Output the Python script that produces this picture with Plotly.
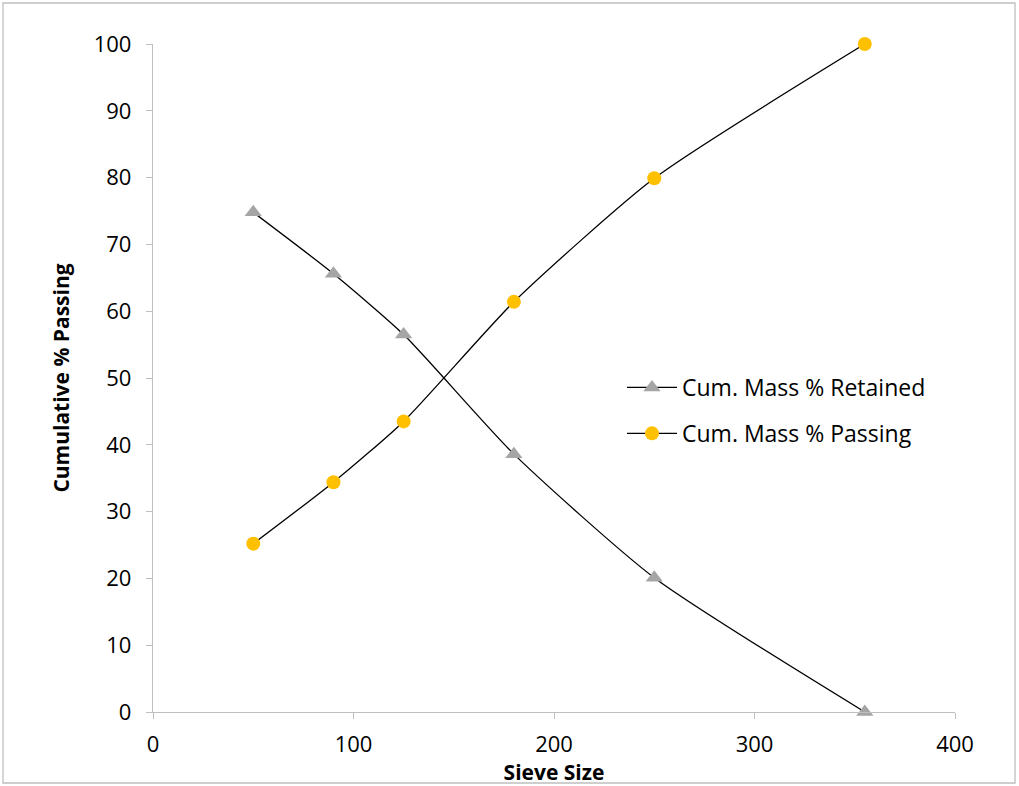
import plotly.graph_objects as go

sieve = [50, 90, 125, 180, 250, 355]
retained = [74.8, 65.6, 56.5, 38.6, 20.1, 0]
passing = [25.2, 34.4, 43.5, 61.4, 79.9, 100]

L, R, T, B = 153, 64, 44, 74
W, H = 1019, 786
pw, ph = W - L - R, H - T - B

fig = go.Figure()
fig.add_trace(go.Scatter(x=sieve, y=retained, mode="lines+markers", name="Cum. Mass % Retained",
                         legendgroup="a", cliponaxis=False,
                         line=dict(color="black", width=1.3, shape="spline", smoothing=0.6),
                         marker=dict(symbol="triangle-up", size=15, color="#A5A5A5")))
fig.add_trace(go.Scatter(x=sieve, y=passing, mode="lines+markers", name="Cum. Mass % Passing",
                         legendgroup="b", cliponaxis=False,
                         line=dict(color="black", width=1.3, shape="spline", smoothing=0.6),
                         marker=dict(symbol="circle", size=14, color="#FFC000")))

font = "Open Sans, Liberation Sans, sans-serif"
fig.update_layout(
    width=W, height=H, autosize=False,
    margin=dict(l=L, r=R, t=T, b=B),
    paper_bgcolor="white", plot_bgcolor="white",
    font=dict(family=font, size=22, color="black"),
    showlegend=True,
    legend=dict(x=(622 - L) / pw, y=(712 - 366) / ph, xanchor="left", yanchor="top",
                font=dict(size=23, family=font), bgcolor="rgba(0,0,0,0)",
                traceorder="grouped", tracegroupgap=13, itemwidth=50),
    xaxis=dict(range=[0, 400], tickvals=[0, 100, 200, 300, 400], showgrid=False, zeroline=False,
               showline=True, linecolor="#BFBFBF", linewidth=1.3, ticks="outside", ticklen=6,
               tickcolor="#BFBFBF", tickfont=dict(size=22), ticklabelstandoff=6,
               title=dict(text="<b>Sieve Size</b>", font=dict(size=21), standoff=0)),
    yaxis=dict(range=[0, 100], tickvals=list(range(0, 101, 10)), showgrid=False, zeroline=False,
               showline=True, linecolor="#BFBFBF", linewidth=1.3, ticks="outside", ticklen=6,
               tickcolor="#BFBFBF", tickfont=dict(size=22), ticklabelstandoff=10,
               title=dict(text="<b>Cumulative % Passing</b>", font=dict(size=21), standoff=18)),
    shapes=[dict(type="rect", xref="paper", yref="paper",
                 x0=(3 - L) / pw, x1=(1015 - L) / pw, y0=(712 - 783) / ph, y1=(712 - 3) / ph,
                 line=dict(color="#BFBFBF", width=1.3), fillcolor="rgba(0,0,0,0)", layer="below")],
)

fig.write_html("out.html")
